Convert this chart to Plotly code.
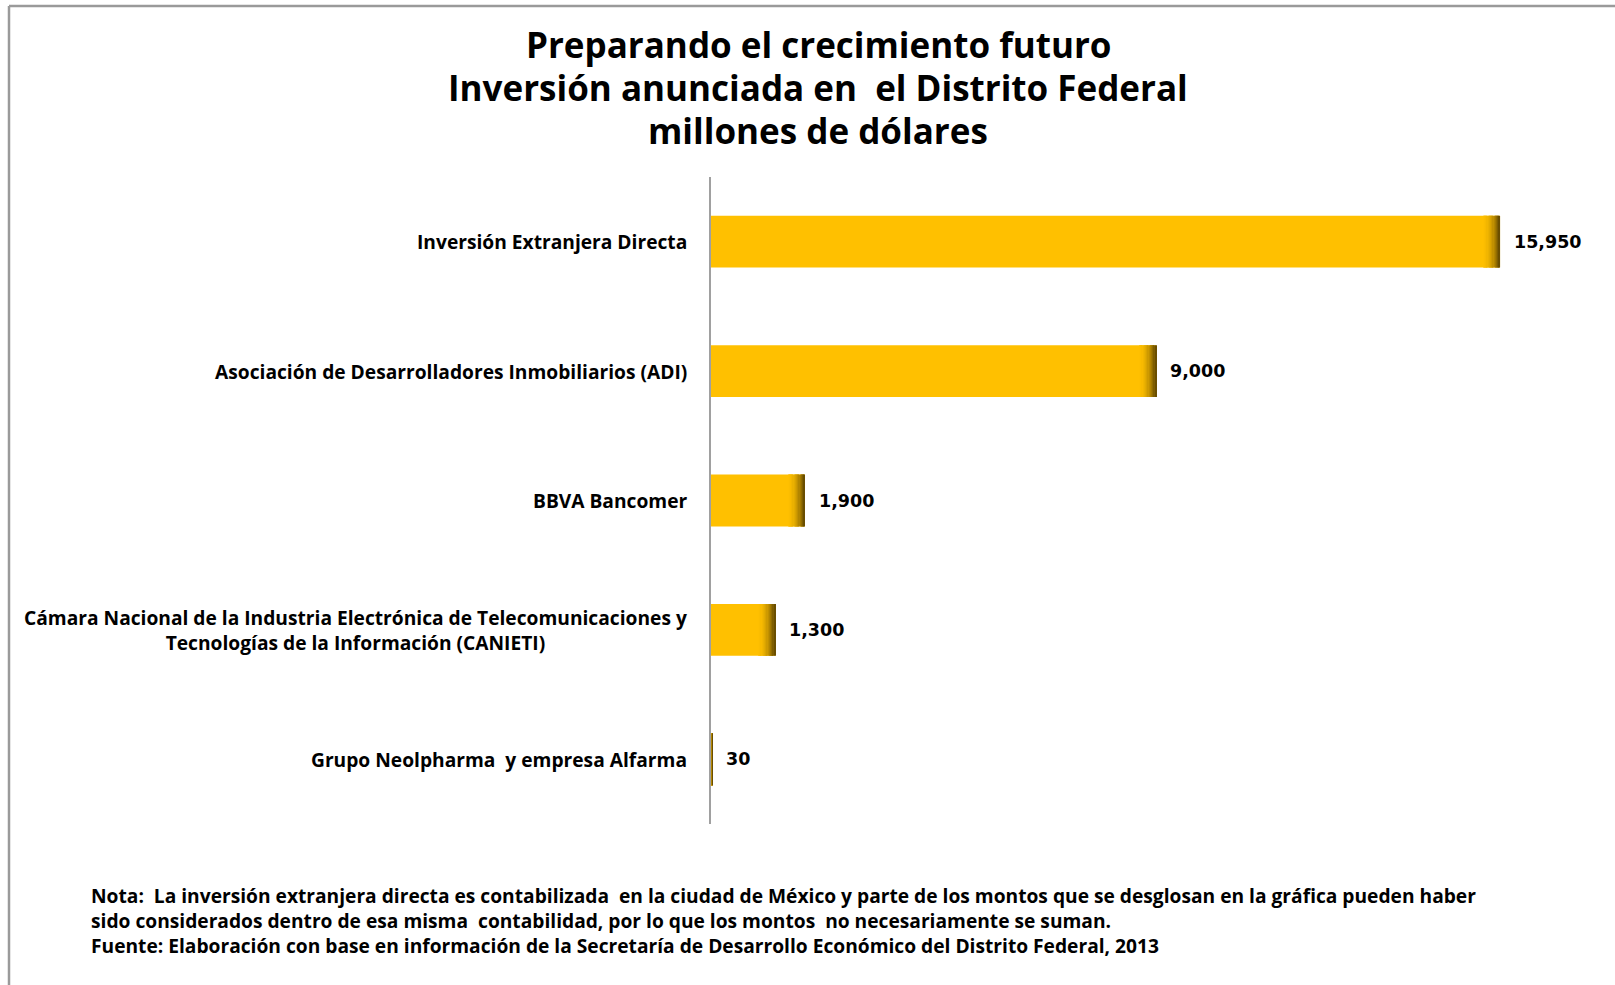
import plotly.graph_objects as go

categories = [
    "Inversión Extranjera Directa",
    "Asociación de Desarrolladores Inmobiliarios (ADI)",
    "BBVA Bancomer",
    "Cámara Nacional de la Industria Electrónica de Telecomunicaciones y<br>Tecnologías de la Información (CANIETI)",
    "Grupo Neolpharma  y empresa Alfarma",
]
values = [15950, 9000, 1900, 1300, 30]
value_labels = ["15,950", "9,000", "1,900", "1,300", "30"]

title_lines = [
    "Preparando el crecimiento futuro",
    "Inversión anunciada en  el Distrito Federal",
    "millones de dólares",
]
note_lines = [
    "Nota:  La inversión extranjera directa es contabilizada  en la ciudad de México y parte de los montos que se desglosan en la gráfica pueden haber",
    "sido considerados dentro de esa misma  contabilidad, por lo que los montos  no necesariamente se suman.",
    "Fuente: Elaboración con base en información de la Secretaría de Desarrollo Económico del Distrito Federal, 2013",
]

W, H = 1615, 985
L, R, T, B = 711, 63, 177, 161
PW, PH = W - L - R, H - T - B
XMAX = 17000


def px(x):
    return (x - L) / PW


def py(y):
    return (H - B - y) / PH


GOLD = "#FFC000"
DARK = (0x6A, 0x4E, 0x00)
gold_rgb = (0xFF, 0xC0, 0x00)

fig = go.Figure()
fig.add_trace(go.Bar(
    y=categories, x=values, orientation="h", width=0.4,
    marker=dict(color=GOLD, line=dict(width=0)), hoverinfo="skip",
))

# darker right edge to mimic the shaded bar ends
N = 14
edge_units = 340
for k in range(N):
    t = ((k + 1) / N) ** 2.0
    col = "rgb(%d,%d,%d)" % tuple(int(g + (d - g) * t) for g, d in zip(gold_rgb, DARK))
    bases, widths = [], []
    for v in values:
        e = min(edge_units, v)
        b0 = v - e * (N - k) / N
        b1 = v - e * (N - k - 1) / N
        bases.append(b0)
        widths.append(b1 - b0)
    fig.add_trace(go.Bar(
        y=categories, x=widths, base=bases, orientation="h", width=0.4,
        marker=dict(color=col, line=dict(width=0)), hoverinfo="skip",
    ))

annotations = []
for c, v, lab in zip(categories, values, value_labels):
    annotations.append(dict(
        x=v, y=c, xref="x", yref="y", text=lab, showarrow=False,
        xanchor="left", yanchor="middle", xshift=12,
        font=dict(family="DejaVu Sans", size=17.5, color="#000000", weight="bold"),
    ))
    annotations.append(dict(
        x=0, y=c, xref="paper", yref="y", text=c, showarrow=False,
        xanchor="right", yanchor="middle", align="center", xshift=-22,
        font=dict(family="Open Sans", size=19.2, color="#000000", weight="bold"),
    ))

for line, yc in zip(title_lines, [44, 87, 130]):
    annotations.append(dict(
        x=px(818), y=py(yc), xref="paper", yref="paper",
        text=line, showarrow=False,
        xanchor="center", yanchor="middle", align="center",
        font=dict(family="Open Sans", size=35, color="#000000", weight="bold"),
    ))
annotations.append(dict(
    x=px(89), y=py(920), xref="paper", yref="paper",
    text="<br>".join(note_lines), showarrow=False,
    xanchor="left", yanchor="middle", align="left",
    font=dict(family="Open Sans", size=19.2, color="#000000", weight="bold"),
))

shapes = [
    dict(type="line", xref="paper", yref="paper", x0=px(9), x1=px(W + 5), y0=py(6), y1=py(6),
         line=dict(color="#9a9a9a", width=2.5)),
    dict(type="line", xref="paper", yref="paper", x0=px(9), x1=px(9), y0=py(6), y1=py(H + 5),
         line=dict(color="#9a9a9a", width=2.5)),
]

fig.update_layout(
    width=W, height=H,
    margin=dict(l=L, r=R, t=T, b=B),
    paper_bgcolor="white", plot_bgcolor="white",
    barmode="overlay", showlegend=False,
    xaxis=dict(range=[0, XMAX], visible=False, fixedrange=True),
    yaxis=dict(categoryorder="array", categoryarray=categories, autorange="reversed",
               showticklabels=False, showgrid=False, zeroline=False, ticks="",
               showline=True, linecolor="#a0a0a0", linewidth=2, fixedrange=True),
    annotations=annotations, shapes=shapes,
)

fig.write_html(
    "out.html",
    config={"displayModeBar": False},
    post_script="document.body.style.margin='0';document.body.style.overflow='hidden';",
)
